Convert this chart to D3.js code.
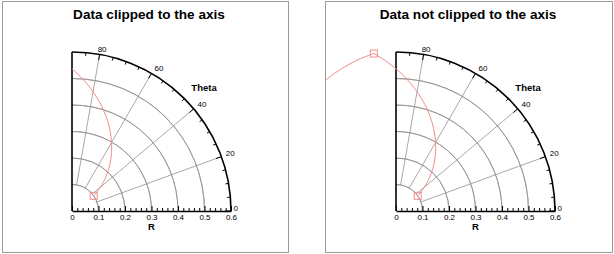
<!DOCTYPE html>
<html>
<head>
<meta charset="utf-8">
<script src="https://cdn.jsdelivr.net/npm/d3@7"></script>
<style>
  body { margin: 0; background: #fff; }
  svg { display: block; font-family: "Liberation Sans", Arial, Helvetica, sans-serif; }
  .frame { fill: none; stroke: #9a9a9a; stroke-width: 1; }
  .title { font-size: 13.6px; font-weight: bold; }
  .grid { fill: none; stroke: #929292; stroke-width: 0.8; }
  .axis-line { fill: none; stroke: #000; stroke-width: 1.6; }
  .tick-line { stroke: #000; stroke-width: 1; }
  .lab { font-size: 8px; fill: #000; }
  .axis-title { font-size: 9.5px; font-weight: bold; }
  .curve { fill: none; stroke: #f08a8a; stroke-width: 1; }
  .marker { fill: none; stroke: #f08a8a; stroke-width: 1; }
</style>
</head>
<body>
<div id="chart"></div>
<script>
// chart data
const titles = ['Data clipped to the axis', 'Data not clipped to the axis'];
const rTicks = [0, 0.1, 0.2, 0.3, 0.4, 0.5, 0.6];
const rTickLabels = ['0', '0.1', '0.2', '0.3', '0.4', '0.5', '0.6'];
const rGrid = [0.1, 0.2, 0.3, 0.4, 0.5];
const thetaTicks = [0, 20, 40, 60, 80];
const dataTheta = [35, 98, 160];   // degrees
const dataR = [0.1, 0.6, 0.48];

let width = 614, height = 254;
let rMax = 0.6;

// panels: frame box, origin of the polar axis, title centre
let panels = [
  {frame: [2.5, 1.5, 286, 251], ox: 72, oy: 211, tx: 149, clip: true},
  {frame: [325.5, 1.5, 287, 251], ox: 396, oy: 211, tx: 468, clip: false}
];

let scR = d3.scaleLinear().domain([0, rMax]).range([0, 159]);
let scA = d3.scaleLinear().domain([0, 90]).range([0, Math.PI / 2]); // radians, ccw from +x

let svg = d3.select('#chart').append('svg')
  .attr('width', width)
  .attr('height', height);

function xy(r, th) {
  let a = scA(th);
  return [scR(r) * Math.cos(a), -scR(r) * Math.sin(a)];
}

function drawPanel(p, i) {
  let [fx, fy, fw, fh] = p.frame;

  svg.append('rect')
    .attr('class', 'frame')
    .attr('x', fx).attr('y', fy)
    .attr('width', fw).attr('height', fh);

  svg.append('text')
    .attr('class', 'title')
    .attr('text-anchor', 'middle')
    .attr('x', p.tx)
    .attr('y', 19)
    .text(titles[i]);

  let defs = svg.append('defs');
  let clipId = 'clip' + i;
  if (p.clip) {
    // clip to the quarter disk of the axis
    defs.append('clipPath').attr('id', clipId)
      .append('path')
      .attr('d', d3.arc().innerRadius(0).outerRadius(scR(rMax)).startAngle(0).endAngle(Math.PI / 2)())
      .attr('transform', `translate(${p.ox},${p.oy})`);
  } else {
    defs.append('clipPath').attr('id', clipId)
      .append('rect')
      .attr('x', fx).attr('y', fy).attr('width', fw).attr('height', fh);
  }

  let g = svg.append('g').attr('transform', `translate(${p.ox},${p.oy})`);

  // circular gridlines
  g.selectAll('path.grid-arc')
    .data(rGrid)
    .enter()
    .append('path')
      .attr('class', 'grid grid-arc')
      .attr('d', d => d3.arc().innerRadius(scR(d)).outerRadius(scR(d)).startAngle(0).endAngle(Math.PI / 2)());

  // radial gridlines
  g.selectAll('line.grid-rad')
    .data(thetaTicks.filter(d => d > 0))
    .enter()
    .append('line')
      .attr('class', 'grid grid-rad')
      .attr('x1', d => xy(rGrid[0], d)[0])
      .attr('y1', d => xy(rGrid[0], d)[1])
      .attr('x2', d => xy(rMax, d)[0])
      .attr('y2', d => xy(rMax, d)[1]);

  // data curve: segments drawn in polar space between points
  let pts = [];
  for (let k = 0; k < dataR.length - 1; k++) {
    let n = 60;
    for (let s = 0; s <= n; s++) {
      let t = s / n;
      let r = dataR[k] + (dataR[k + 1] - dataR[k]) * t;
      let th = dataTheta[k] + (dataTheta[k + 1] - dataTheta[k]) * t;
      pts.push(xy(r, th));
    }
  }
  let gd = svg.append('g').attr('clip-path', `url(#${clipId})`)
    .append('g').attr('transform', `translate(${p.ox},${p.oy})`);
  gd.append('path')
    .attr('class', 'curve')
    .attr('d', d3.line()(pts));
  gd.selectAll('rect.marker')
    .data(dataR.map((r, k) => xy(r, dataTheta[k])))
    .enter()
    .append('rect')
      .attr('class', 'marker')
      .attr('x', d => d[0] - 3.5)
      .attr('y', d => d[1] - 3.5)
      .attr('width', 7)
      .attr('height', 7);

  // theta axis: outer arc with ticks
  g.append('path')
    .attr('class', 'axis-line')
    .attr('d', d3.arc().innerRadius(scR(rMax)).outerRadius(scR(rMax)).startAngle(0).endAngle(Math.PI / 2)());
  let minorTheta = d3.range(5, 90, 5).filter(d => d % 20 !== 0);
  g.selectAll('line.th-minor')
    .data(minorTheta)
    .enter()
    .append('line')
      .attr('class', 'tick-line th-minor')
      .attr('x1', d => xy(rMax, d)[0])
      .attr('y1', d => xy(rMax, d)[1])
      .attr('x2', d => xy(rMax - 0.012, d)[0])
      .attr('y2', d => xy(rMax - 0.012, d)[1]);
  g.selectAll('line.th-major')
    .data(thetaTicks)
    .enter()
    .append('line')
      .attr('class', 'tick-line th-major')
      .attr('x1', d => xy(rMax, d)[0])
      .attr('y1', d => xy(rMax, d)[1])
      .attr('x2', d => xy(rMax - 0.022, d)[0])
      .attr('y2', d => xy(rMax - 0.022, d)[1]);
  g.selectAll('text.th-lab')
    .data(thetaTicks)
    .enter()
    .append('text')
      .attr('class', 'lab th-lab')
      .attr('text-anchor', 'start')
      .attr('dy', '0.35em')
      .attr('x', d => xy(rMax, d)[0] + (d > 0 ? 1.5 + Math.cos(scA(d)) * 3 - (d === 80 ? 4 : 0) : 2.5))
      .attr('y', d => xy(rMax, d)[1] - 3 - Math.sin(scA(d)) * 2.5)
      .text(d => d);
  g.append('text')
    .attr('class', 'axis-title')
    .attr('text-anchor', 'middle')
    .attr('x', 132)
    .attr('y', -120)
    .text('Theta');

  // left edge of the sector
  g.append('line')
    .attr('class', 'axis-line')
    .attr('x1', 0).attr('y1', 0)
    .attr('x2', 0).attr('y2', -scR(rMax));

  // R axis
  let rAxis = g.append('g')
    .attr('class', 'r-axis')
    .call(d3.axisBottom(scR)
      .tickValues(rTicks)
      .tickSizeInner(-5)
      .tickSizeOuter(0)
      .tickPadding(3)
      .tickFormat((d, k) => rTickLabels[k]));
  rAxis.select('.domain').attr('stroke-width', 1.6);
  rAxis.selectAll('text').attr('class', 'lab');
  rAxis.attr('font-size', null).attr('font-family', null);
  g.append('g')
    .attr('class', 'r-minor')
    .call(d3.axisBottom(scR)
      .tickValues(d3.range(1, 30).filter(k => k % 5 !== 0).map(k => k * 0.02))
      .tickSizeInner(-3)
      .tickSizeOuter(0)
      .tickFormat(''))
    .select('.domain').remove();

  g.append('text')
    .attr('class', 'axis-title')
    .attr('text-anchor', 'middle')
    .attr('x', scR(0.3))
    .attr('y', 19)
    .text('R');
}

panels.forEach(drawPanel);
</script>
</body>
</html>
